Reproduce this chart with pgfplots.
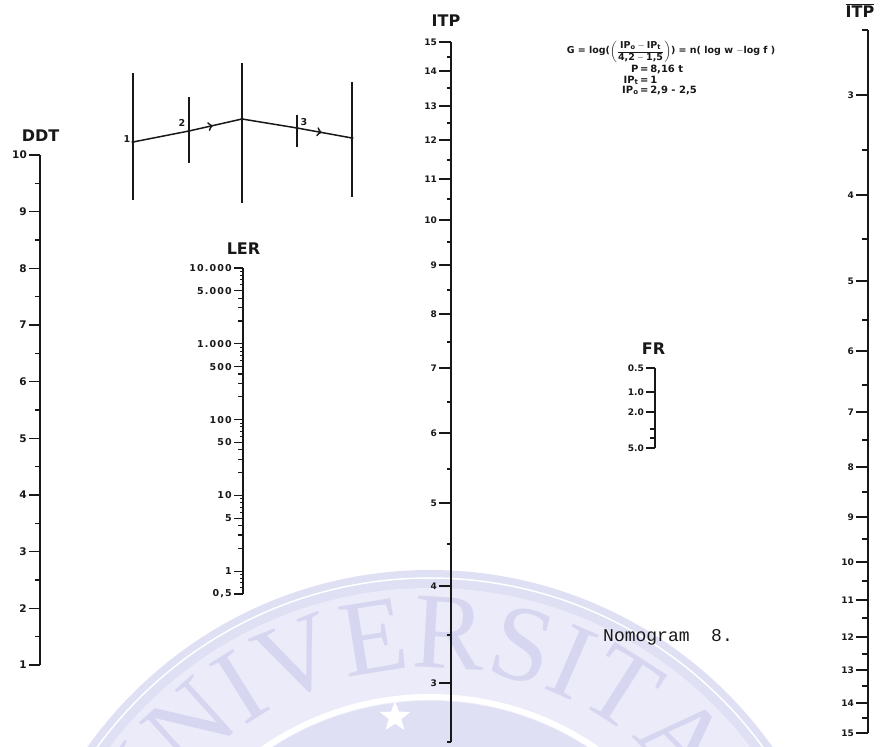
\documentclass[border=0pt]{standalone}
\usepackage{fontspec}
\setmainfont{DejaVu Sans}
\newfontfamily\monofont{Liberation Mono}
\newfontfamily\wmfont{Liberation Serif}
\usepackage{amsmath}
\usepackage{pgfplots}
\pgfplotsset{compat=1.18}
\usetikzlibrary{decorations.markings,decorations.text,shapes.geometric}
\definecolor{ink}{HTML}{181818}
\definecolor{wmA}{HTML}{E0E0F5}
\definecolor{wmB}{HTML}{EBEBF9}
\definecolor{wmL}{HTML}{D6D6F1}
\newcommand{\lblfont}[1]{\bfseries\fontsize{#1}{#1}\selectfont}

\pgfplotsset{
  nomoscale/.style={
    scale only axis, width=1pt,
    anchor=south west,
    xmin=0, xmax=1, xtick=\empty,
    axis x line=none, axis y line=left,
    axis line style={-, line width=1.8pt, ink},
    enlargelimits=false, clip=false,
    tick align=outside,
    major tick length=11pt, minor tick length=5pt,
    tick style={ink, line width=1.3pt},
    yticklabel style={text=ink, inner sep=2pt},
    title style={font=\lblfont{16}, text=ink, at={(0.5,1)}, anchor=base, yshift=7pt},
  },
}

\begin{document}
\begin{tikzpicture}
\useasboundingbox (0pt,0pt) rectangle (881pt,747pt);
% ---------- master frame: key diagram, formula, caption, watermark ----------
\begin{axis}[at={(0pt,0pt)}, anchor=south west, scale only axis,
  width=881pt, height=747pt, xmin=0, xmax=881, ymin=0, ymax=747,
  hide axis, enlargelimits=false, clip=true]
% watermark seal
\fill[wmA, overlay] (axis cs:430,-243) circle[radius=420pt];
\draw[white, line width=1.5pt, overlay] (axis cs:430,-243) circle[radius=412pt];
\fill[wmB, overlay] (axis cs:430,-243) circle[radius=402pt];
\path[overlay, decorate, decoration={text along path, text align=center,
  text={|\wmfont\fontsize{108}{108}\selectfont\color{wmL}|UNIVERSITAS}}]
  (axis cs:127.4,-132.9) arc[start angle=160, end angle=20, radius=322pt];
\fill[wmA, overlay] (axis cs:430,-243) circle[radius=289pt];
\draw[white, line width=6pt, overlay] (axis cs:430,-243) circle[radius=293pt];
\node[star, star points=5, star point ratio=2.4, fill=white, minimum size=32pt, inner sep=0pt, overlay] at (axis cs:395,30) {};

% key diagram
\addplot[ink, line width=1.6pt] coordinates {(133,674) (133,547)};
\addplot[ink, line width=1.6pt] coordinates {(189,650) (189,584)};
\addplot[ink, line width=1.6pt] coordinates {(242,684) (242,544)};
\addplot[ink, line width=1.6pt] coordinates {(297,632) (297,600)};
\addplot[ink, line width=1.6pt] coordinates {(352,665) (352,550)};
\addplot[ink, line width=1.5pt] coordinates {(133,605) (189,616)};
\addplot[ink, line width=1.5pt, postaction={decorate}, decoration={markings, mark=at position 0.45 with {\arrow[line width=1.2pt, scale=1.5]{>}}}] coordinates {(189,616) (242,628)};
\addplot[ink, line width=1.5pt] coordinates {(242,628) (297,619)};
\addplot[ink, line width=1.5pt, postaction={decorate}, decoration={markings, mark=at position 0.45 with {\arrow[line width=1.2pt, scale=1.5]{>}}}] coordinates {(297,619) (352,609)};
\addplot[ink, only marks, mark=*, mark size=1.4pt] coordinates {(133,605) (189,616) (242,628) (297,619) (352,609)};
\node[font=\lblfont{9.5}, text=ink] at (axis cs:127,608) {1};
\node[font=\lblfont{9.5}, text=ink] at (axis cs:182,624) {2};
\node[font=\lblfont{9.5}, text=ink] at (axis cs:304,625) {3};

% formula
\node[anchor=base, font=\lblfont{9.5}, text=ink, inner sep=0pt] at (axis cs:671,693)
  {G = log($\left(\dfrac{\text{IP}_{\text{o}}-\text{IP}_{\text{t}}}{\text{4,2}-\text{1,5}}\right)$) = n( log w $-$log f )};
\node[anchor=base west, font=\lblfont{10}, text=ink, inner sep=0pt] at (axis cs:622,674)
  {\renewcommand{\arraystretch}{0.95}\begin{tabular}[t]{@{}r@{\,=\,}l@{}}
   P & 8,16 t\\
   IP$_{\text{t}}$ & 1\\
   IP$_{\text{o}}$ & 2,9 - 2,5
  \end{tabular}};

% caption
\node[anchor=base west, font=\monofont\fontsize{18}{18}\selectfont, text=ink, inner sep=0pt] at (axis cs:603,105) {Nomogram~~8.};
\end{axis}

% ---------- DDT ----------
\begin{axis}[nomoscale, at={(40pt,82pt)}, height=510pt, ymin=1, ymax=10,
  ytick={1,2,3,4,5,6,7,8,9,10}, yticklabels={1,2,3,4,5,6,7,8,9,10},
  minor ytick={1.5,2.5,3.5,4.5,5.5,6.5,7.5,8.5,9.5},
  yticklabel style={font=\lblfont{10.5}},
  title={DDT}]
\end{axis}

% ---------- LER ----------
\begin{axis}[nomoscale, at={(243pt,153pt)}, height=326pt, ymode=log, ymin=0.5, ymax=10000,
  major tick length=9pt, minor tick length=5pt,
  ytick={0.5,1,5,10,50,100,500,1000,5000,10000},
  yticklabels={{0,5},1,5,10,50,100,500,1.000,5.000,10.000},
  minor ytick={2,3,4,20,30,40,200,300,400,2000,3000,4000},
  extra y ticks={0.6,0.7,0.8,0.9,6,7,8,9,60,70,80,90,600,700,800,900,6000,7000,8000,9000},
  extra y tick labels={},
  extra y tick style={major tick length=3pt, tick style={line width=1pt}},
  yticklabel style={font={\lblfont{9.5}\addfontfeatures{LetterSpace=12}}},
  title={LER}]
\end{axis}

% ---------- ITP ----------
\begin{axis}[nomoscale, at={(451pt,5pt)}, height=700pt, ymin=5, ymax=705,
  major tick length=12pt, minor tick length=4pt,
  ytick={64,161,244,314,379,433,482,527,568,607,641,676,705},
  yticklabels={3,4,5,6,7,8,9,10,11,12,13,14,15},
  minor ytick={5,112,203,278,345,405,457,505,548,587,624,659,690},
  yticklabel style={font=\lblfont{9}},
  title={ITP}, title style={xshift=-5.5pt, yshift=2pt}]
\end{axis}

% ---------- FR ----------
\begin{axis}[nomoscale, at={(655pt,299pt)}, height=80pt, ymin=299, ymax=379,
  major tick length=9pt, minor tick length=5pt,
  ytick={299,335,355,379}, yticklabels={5.0,2.0,1.0,0.5},
  minor ytick={309,318},
  yticklabel style={font=\lblfont{9}},
  title={FR}, title style={xshift=-2pt}]
\end{axis}

% ---------- ITP bar ----------
\begin{axis}[nomoscale, at={(868pt,14pt)}, height=703pt, ymin=14, ymax=717,
  major tick length=12pt, minor tick length=6pt,
  ytick={14,44,77,110,147,185,230,280,335,396,466,552,652},
  yticklabels={15,14,13,12,11,10,9,8,7,6,5,4,3},
  minor ytick={29,61,93,129,166,208,255,307,362,427,508,597,717},
  yticklabel style={font=\lblfont{9}},
  title={$\overline{\text{ITP}}$}, title style={xshift=-8.5pt, yshift=-1pt}]
\end{axis}
\end{tikzpicture}
\end{document}
